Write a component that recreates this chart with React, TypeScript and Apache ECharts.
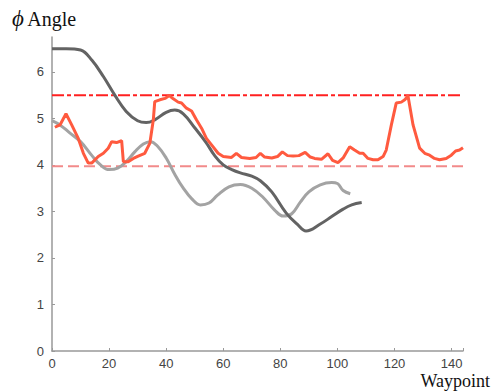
import React, { useEffect, useRef } from "react";
import * as echarts from "echarts";

const darkX = [0, 5, 10, 14, 18, 22, 26, 30, 33, 36, 40, 43, 46, 50, 54, 57, 60, 63, 66, 70, 73, 77, 82, 86, 89, 94, 98, 102, 105, 108.5];
const darkY = [6.5, 6.5, 6.47, 6.25, 5.9, 5.5, 5.15, 4.95, 4.91, 4.97, 5.13, 5.18, 5.1, 4.8, 4.48, 4.2, 4.0, 3.9, 3.83, 3.76, 3.66, 3.42, 2.97, 2.72, 2.58, 2.73, 2.89, 3.05, 3.14, 3.19];

const lightX = [0, 3, 6, 10, 14, 17, 20, 23, 26, 29, 32, 34.5, 37, 40, 43, 46, 49, 52, 55, 58, 62, 66, 70, 74, 78, 81, 84, 87, 90, 94, 98, 100, 102, 104.5];
const lightY = [4.95, 4.85, 4.7, 4.5, 4.2, 4.0, 3.9, 3.93, 4.07, 4.28, 4.45, 4.5, 4.4, 4.15, 3.8, 3.5, 3.27, 3.14, 3.18, 3.35, 3.53, 3.58, 3.5, 3.3, 3.03, 2.9, 2.95, 3.2, 3.42, 3.57, 3.62, 3.6, 3.45, 3.38];

const redX = [1, 2.8, 4.9, 6.9, 9.2, 11, 12.7, 13.9, 16.2, 18, 19.7, 20.9, 22.6, 24.4, 25, 26.7, 28.5, 30.2, 32.5, 34.3, 35.5, 36, 37.8, 39.6, 41.1, 42.5, 44.2, 45.4, 47.1, 48.9, 50.6, 52.4, 54.1, 55.9, 58.2, 60, 62.9, 64.6, 66.4, 69.3, 71.5, 73, 74.5, 77, 79, 80.7, 82.5, 84.5, 86.5, 88.7, 90.5, 92, 94.4, 96.7, 98.3, 100.2, 102, 104.3, 106, 107.8, 109, 110.7, 112.5, 114.2, 116, 117.1, 118.9, 120.6, 122.4, 123.6, 124.7, 126.5, 128.8, 130.6, 132.3, 134, 135.8, 138.1, 139.9, 141.4, 142.8, 144];
const redY = [4.81, 4.86, 5.1, 4.86, 4.57, 4.25, 4.04, 4.04, 4.18, 4.25, 4.36, 4.5, 4.48, 4.52, 4.07, 4.07, 4.14, 4.19, 4.25, 4.47, 4.97, 5.36, 5.4, 5.43, 5.49, 5.42, 5.35, 5.33, 5.22, 5.16, 4.97, 4.79, 4.57, 4.43, 4.25, 4.18, 4.16, 4.25, 4.16, 4.14, 4.16, 4.25, 4.17, 4.15, 4.18, 4.28, 4.2, 4.19, 4.2, 4.27, 4.17, 4.14, 4.12, 4.24, 4.1, 4.05, 4.15, 4.39, 4.32, 4.25, 4.25, 4.14, 4.11, 4.11, 4.18, 4.32, 4.86, 5.33, 5.35, 5.4, 5.49, 4.86, 4.36, 4.25, 4.21, 4.14, 4.11, 4.14, 4.21, 4.3, 4.32, 4.37];

const upperLimit = 5.5;
const lowerLimit = 3.97;
const limitX = [0, 144];
const xTicks = [0, 20, 40, 60, 80, 100, 120, 140];
const yTicks = [0, 1, 2, 3, 4, 5, 6];

const zip = (xs: number[], ys: number[]) => xs.map((x, i) => [x, ys[i]]);

export default function App() {
  const ref = useRef<HTMLDivElement>(null);
  useEffect(() => {
    if (!ref.current) return;
    const chart = echarts.init(ref.current, undefined, { renderer: "svg" });
    const axisLabel = { color: "#444", fontSize: 13, fontFamily: "Liberation Sans, Arial, sans-serif" };
    const serif = "'Liberation Serif', 'Times New Roman', serif";
    chart.setOption({
      animation: false,
      grid: { left: 52, right: 28, top: 37, bottom: 40, containLabel: false },
      xAxis: {
        type: "value",
        min: 0,
        max: 144,
        interval: 20,
        axisLine: { show: true, lineStyle: { color: "#999", width: 1.5 } },
        axisTick: { show: true, inside: true, length: 3, lineStyle: { color: "#999" } },
        splitLine: { show: false },
        axisLabel: {
          ...axisLabel,
          margin: 6,
          formatter: (v: number) => (xTicks.includes(v) ? String(v) : ""),
        },
      },
      yAxis: {
        type: "value",
        min: 0,
        max: 6.75,
        interval: 1,
        axisLine: { show: true, lineStyle: { color: "#999", width: 1.5 } },
        axisTick: { show: true, inside: true, length: 3, lineStyle: { color: "#999" } },
        splitLine: { show: false },
        axisLabel: {
          ...axisLabel,
          margin: 8,
          showMaxLabel: false,
          formatter: (v: number) => (yTicks.includes(v) ? String(v) : ""),
        },
      },
      graphic: [
        {
          type: "text",
          left: 12,
          top: 7,
          style: {
            text: "{p|ϕ} {a|Angle}",
            rich: {
              p: { fontFamily: serif, fontSize: 23, fontStyle: "italic", fill: "#111" },
              a: { fontFamily: serif, fontSize: 20, fill: "#111" },
            },
            fill: "#111",
          },
        },
        {
          type: "text",
          right: 1,
          top: 372,
          style: { text: "Waypoint", font: `18px ${serif}`, fill: "#111" },
        },
      ],
      series: [
        {
          type: "line",
          data: limitX.map((x) => [x, upperLimit]),
          symbol: "none",
          lineStyle: { color: "#ff2020", width: 2, type: [12, 3, 4, 3] },
          z: 1,
        },
        {
          type: "line",
          data: limitX.map((x) => [x, lowerLimit]),
          symbol: "none",
          lineStyle: { color: "#f28a8a", width: 2, type: [11, 5] },
          z: 1,
        },
        {
          type: "line",
          data: zip(lightX, lightY),
          symbol: "none",
          smooth: 0.4,
          lineStyle: { color: "#a3a3a3", width: 3 },
          z: 2,
        },
        {
          type: "line",
          data: zip(darkX, darkY),
          symbol: "none",
          smooth: 0.4,
          lineStyle: { color: "#636363", width: 3 },
          z: 3,
        },
        {
          type: "line",
          data: zip(redX, redY),
          symbol: "none",
          lineStyle: { color: "#ff5a3f", width: 3 },
          z: 4,
        },
      ],
    });
    return () => chart.dispose();
  }, []);
  return <div ref={ref} style={{ width: 491, height: 391, position: "absolute", left: 0, top: 0 }} />;
}
